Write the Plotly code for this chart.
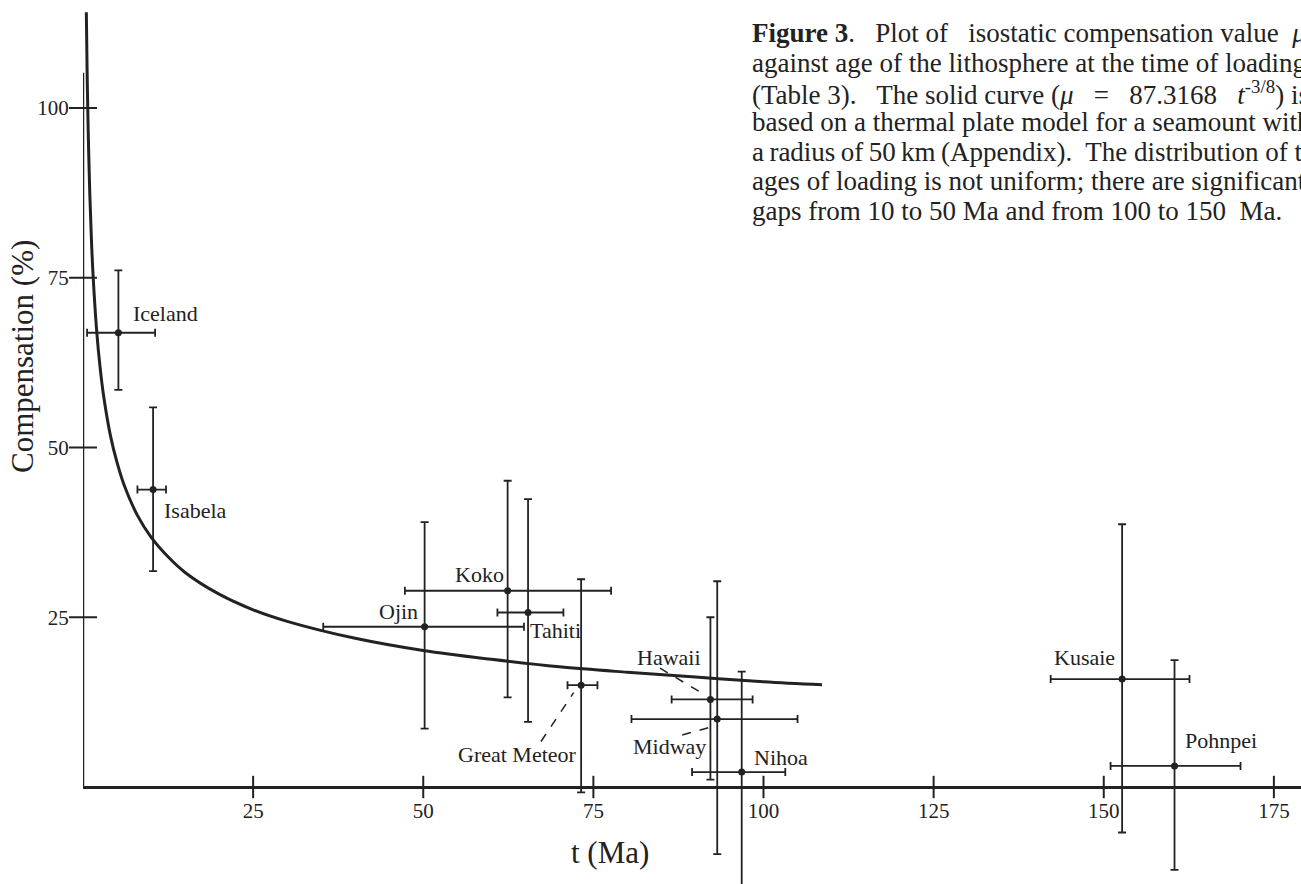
import plotly.graph_objects as go

# ---------------- data ----------------
names = ["Iceland", "Isabela", "Ojin", "Koko", "Tahiti", "Great Meteor",
         "Hawaii", "Midway", "Nihoa", "Kusaie", "Pohnpei"]
age = [5.2, 10.3, 50.2, 62.4, 65.4, 73.2, 92.2, 93.2, 96.8, 152.7, 160.4]
age_err_minus = [4.6, 2.3, 14.9, 15.1, 4.5, 2.0, 5.7, 12.6, 7.3, 10.5, 9.4]
age_err_plus = [5.4, 1.9, 14.6, 15.2, 5.2, 2.4, 6.2, 11.8, 6.4, 9.9, 9.7]
comp = [66.9, 43.8, 23.6, 28.9, 25.7, 15.0, 12.9, 10.0, 2.2, 15.9, 3.1]
comp_err_plus = [9.2, 12.1, 15.4, 16.2, 16.7, 15.6, 12.1, 20.3, 14.8, 22.8, 15.6]
comp_err_minus = [8.4, 12.0, 15.0, 15.7, 16.1, 15.8, 11.8, 19.9, 17.0, 22.6, 15.3]

# label centres (t, %)
label_t = [12.1, 16.5, 46.4, 58.2, 69.4, 63.8, 86.1, 86.2, 102.6, 147.1, 167.2]
label_c = [69.7, 40.7, 25.8, 31.3, 23.0, 4.8, 19.1, 5.9, 4.4, 19.0, 6.8]

# thermal plate model curve
curve_t = [0.49, 0.6, 0.75, 1, 1.25, 1.5, 2, 2.5, 3, 4, 5, 6, 8, 10, 12.5, 15,
           20, 25, 30, 40, 50, 60, 70, 80, 90, 100, 108.6]
curve_c = [114.1, 105.7, 97.3, 87.3, 80.3, 75.0, 67.3, 61.9, 57.8, 51.9, 47.8,
           44.6, 40.0, 36.8, 33.9, 31.6, 28.4, 26.1, 24.4, 21.9, 20.1, 18.8,
           17.7, 16.9, 16.2, 15.5, 15.05]

# dashed leader lines: label -> point
leaders = {
    "Great Meteor": ((67.3, 6.7), (72.1, 13.9)),
    "Hawaii": ((84.8, 17.5), (91.0, 13.8)),
    "Midway": ((88.05, 7.66), (92.9, 9.0)),
}

x_ticks = [25, 50, 75, 100, 125, 150, 175]
y_ticks = [25, 50, 75, 100]

NB = "\u00a0"
TH = "\u2009"
caption_lines = [
    "<b>Figure 3</b>." + NB * 2 + " Plot of" + NB * 2 + " isostatic compensation"
    + NB + "value " + NB + "<i>μ</i>",
    "against age of the lithosphere at the time of loading",
    "(Table 3)." + NB * 2 + " The solid curve (<i>μ</i>" + NB * 3 + "=" + NB * 3
    + "87.3168" + NB * 3 + "<i>t</i><sup>-3/8</sup>) is",
    "based on a thermal plate model for a seamount with",
    TH.join(["a", "radius", "of", "50", "km", "(Appendix)."])
    + NB + " The distribution of the",
    "ages of loading is not uniform; there are significant",
    "gaps from 10 to 50 Ma and from 100 to 150" + NB + " Ma.",
]

# ---------------- layout geometry ----------------
W, H = 1301, 884
X0 = 83.0          # pixel of t = 0
PX_T = 6.805       # pixels per Ma
Y0 = 787.0         # pixel of 0 %
PX_C = 6.79        # pixels per %
INK = "#222222"
FONT = "Liberation Serif"

x_range = [0, (W - X0) / PX_T]
y_range = [(Y0 - H) / PX_C, Y0 / PX_C]

fig = go.Figure()

# model curve
fig.add_trace(go.Scatter(
    x=curve_t, y=curve_c, mode="lines", line=dict(color=INK, width=3),
    line_shape="spline", hoverinfo="skip", showlegend=False))

# data points with error bars
fig.add_trace(go.Scatter(
    x=age, y=comp, mode="markers",
    marker=dict(color=INK, size=7),
    error_x=dict(type="data", symmetric=False, array=age_err_plus,
                 arrayminus=age_err_minus, color=INK, thickness=1.8, width=4),
    error_y=dict(type="data", symmetric=False, array=comp_err_plus,
                 arrayminus=comp_err_minus, color=INK, thickness=1.8, width=4),
    text=names, hoverinfo="text", showlegend=False, cliponaxis=False))

# crossing tick marks
fig.add_trace(go.Scatter(
    x=x_ticks, y=[0] * len(x_ticks), mode="markers",
    marker=dict(symbol="line-ns", size=16, line=dict(color=INK, width=2)),
    hoverinfo="skip", showlegend=False, cliponaxis=False))
fig.add_trace(go.Scatter(
    x=[0] * len(y_ticks), y=y_ticks, mode="markers",
    marker=dict(symbol="line-ew", size=20, line=dict(color=INK, width=2)),
    hoverinfo="skip", showlegend=False, cliponaxis=False))

# vertical axis line (ends just above 100 %)
fig.add_shape(type="line", xref="x", yref="y", x0=0, x1=0, y0=0, y1=105.2,
              line=dict(color=INK, width=2.5))

for name, ((ax, ay), (bx, by)) in leaders.items():
    fig.add_shape(type="line", xref="x", yref="y", x0=ax, y0=ay, x1=bx, y1=by,
                  line=dict(color=INK, width=1.5, dash="dash"))

for n, lt, lc in zip(names, label_t, label_c):
    fig.add_annotation(x=lt, y=lc, xref="x", yref="y", text=n, showarrow=False,
                       font=dict(family=FONT, size=22, color=INK),
                       xanchor="center", yanchor="middle")

# axis titles
fig.add_annotation(x=22 / W, y=1 - 357 / H, xref="paper", yref="paper",
                   text="Compensation (%)", textangle=-90, showarrow=False,
                   font=dict(family=FONT, size=31, color=INK),
                   xanchor="center", yanchor="middle")
fig.add_annotation(x=610 / W, y=1 - 852 / H, xref="paper", yref="paper",
                   text="t (Ma)", showarrow=False,
                   font=dict(family=FONT, size=31, color=INK),
                   xanchor="center", yanchor="middle")

# caption
base0, step = 42.5, 29.6
for i, line in enumerate(caption_lines):
    yb = base0 + i * step
    fig.add_annotation(x=750 / W, y=1 - (yb - 9) / H, xref="paper", yref="paper",
                       text=line, showarrow=False, align="left",
                       font=dict(family=FONT, size=27, color=INK),
                       xanchor="left", yanchor="middle")

fig.update_layout(
    width=W, height=H, autosize=False,
    margin=dict(l=0, r=0, t=0, b=0, pad=0),
    paper_bgcolor="white", plot_bgcolor="white",
    showlegend=False,
    xaxis=dict(domain=[X0 / W, 1], range=x_range, anchor="free",
               position=(H - Y0) / H, showline=True, linecolor=INK,
               linewidth=2.5, showgrid=False, zeroline=False,
               tickmode="array", tickvals=x_ticks,
               ticks="outside", ticklen=4, tickcolor="rgba(0,0,0,0)",
               tickfont=dict(family=FONT, size=21, color=INK)),
    yaxis=dict(domain=[0, 1], range=y_range, anchor="free",
               position=X0 / W, showline=False, showgrid=False,
               zeroline=False, tickmode="array", tickvals=y_ticks,
               ticks="outside", ticklen=10, tickcolor="rgba(0,0,0,0)",
               tickfont=dict(family=FONT, size=21, color=INK)),
)

fig.write_html("out.html")
